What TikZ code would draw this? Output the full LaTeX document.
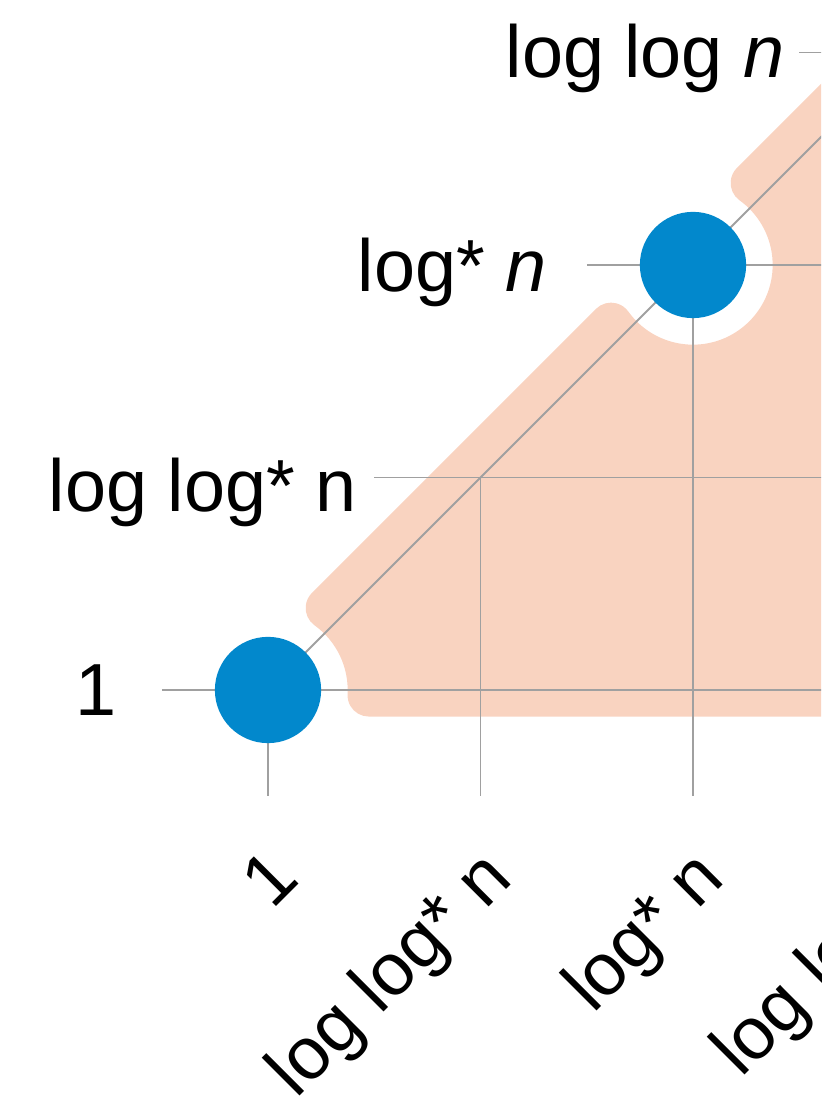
\documentclass[tikz,border=0pt]{standalone}
\usepackage{fontspec}
\setmainfont{Liberation Sans}
\usepackage{tikz}
\usetikzlibrary{positioning}

\definecolor{blob}{HTML}{F9D3C0}
\definecolor{pointblue}{HTML}{0288CC}
\definecolor{gridgray}{HTML}{A0A0A0}

\begin{document}
\begin{tikzpicture}[x=4.25cm, y=4.25cm,
    dot/.style={circle, fill=pointblue, minimum size=2.125cm, inner sep=0pt},
    gridline/.style={gridgray, line width=1.1pt},
    lbl/.style={font=\fontsize{42}{48}\selectfont, inner sep=0pt, anchor=base east}]

  % page
  \useasboundingbox (-1.2612,-1.9718) rectangle (2.6024,3.2471);
  \clip (-1.2612,-1.9718) rectangle (2.6024,3.2471);

  % shaded band, cut round the two points
  \fill[blob] (2.8,-0.125) -- (0.4743,-0.125)
    arc[start angle=270, end angle=176.98, radius=0.1]
    arc[start angle=-3.02, end angle=54.3, radius=0.375]
    arc[start angle=234.3, end angle=135, radius=0.1]
    -- (1.5435,1.7936)
    arc[start angle=135, end angle=35.7, radius=0.1]
    arc[start angle=215.7, end angle=414.3, radius=0.375]
    arc[start angle=234.3, end angle=135, radius=0.1]
    -- (2.8,3.05) -- cycle;

  % grid points
  \foreach \i in {0,...,3} {
    \coordinate (d\i) at (\i,\i);
    \coordinate (l\i) at (\i-0.5,\i);
    \coordinate (r\i) at (3.2,\i);
    \coordinate (b\i) at (\i,-0.5);
  }

  % grid lines
  \foreach \i in {0,...,3} {
    \draw[gridline] (l\i) -- (r\i);
    \draw[gridline] (d\i) -- (b\i);
  }
  \draw[gridline] (d0) -- (d3);

  % the two points
  \node[dot] (one) at (d0) {};
  \node[dot] (logstar) at (d2) {};

  % row labels
  \node[lbl] (y0) at (-0.713,-0.118) {1};
  \node[lbl] (y1) at (0.419,0.838) {log log* n};
  \node[lbl] (y2) at (1.313,1.873) {log* \textit{n}};
  \node[lbl] (y3) at (2.433,2.88) {log log \textit{n}};

  % column labels
  \foreach \i/\t in {0/1, 1/log log* n, 2/log* n, 3/log log \textit{n}}
    \node[lbl, rotate=45] (x\i) at (\i+0.16,-0.9) {\t};
\end{tikzpicture}
\end{document}
